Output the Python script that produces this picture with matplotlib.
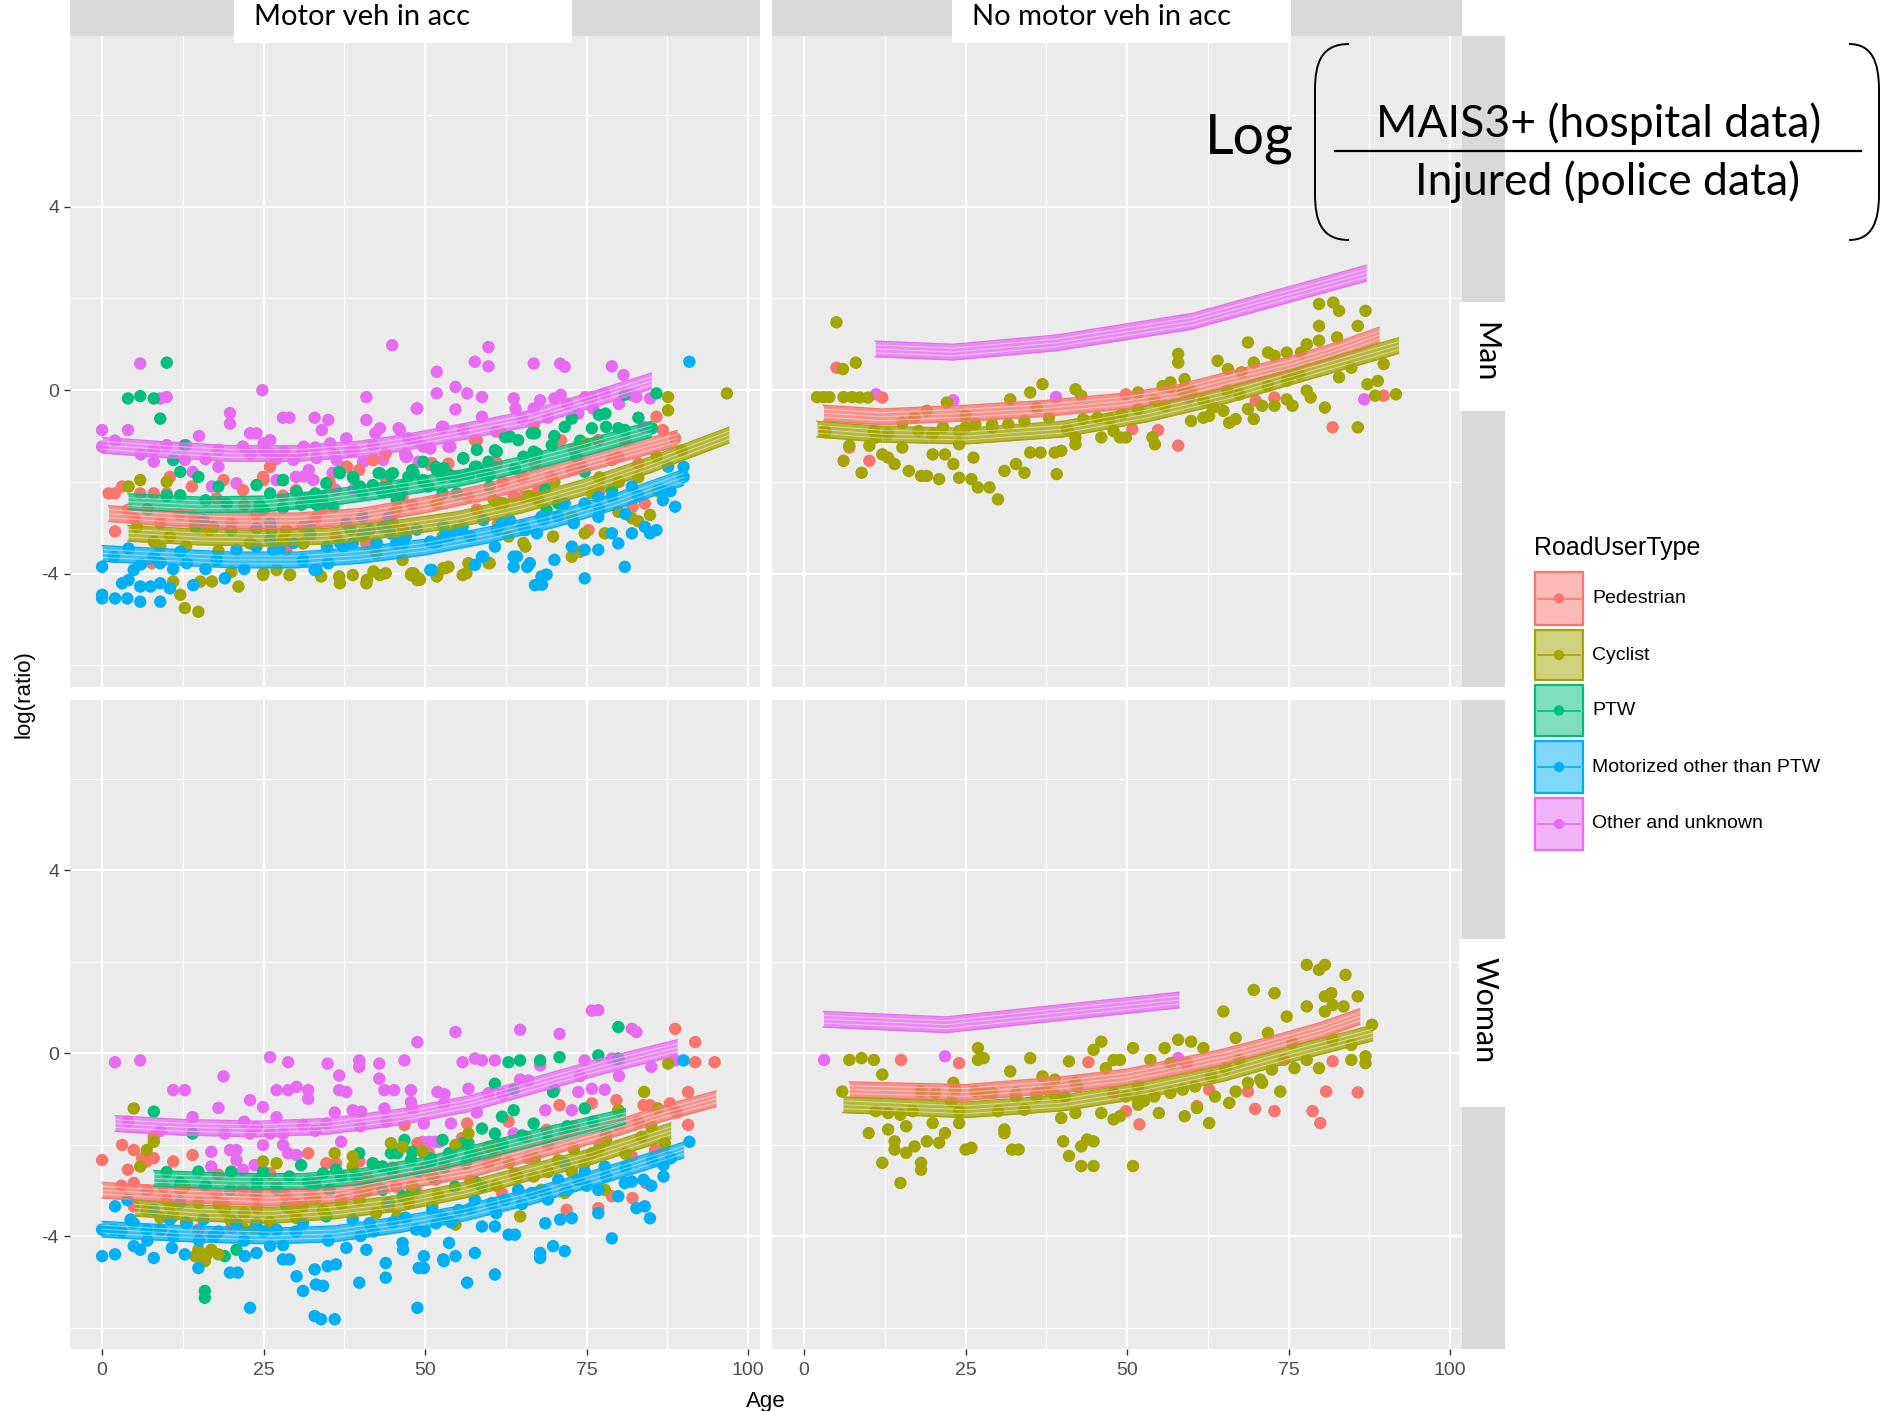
import matplotlib
matplotlib.use("Agg")
import matplotlib.pyplot as plt
from matplotlib.patches import Rectangle, PathPatch
from matplotlib.path import Path
import numpy as np

plt.rcParams['axes.unicode_minus'] = False
plt.rcParams['font.family'] = ['Liberation Sans', 'DejaVu Sans']

# ---------------- data ----------------
road_user_types = ["Pedestrian", "Cyclist", "PTW", "Motorized other than PTW", "Other and unknown"]
type_colors = ["#F8766D", "#A3A500", "#00BF7D", "#00B0F6", "#E76BF3"]
col_labels = ["Motor veh in acc", "No motor veh in acc"]
row_labels = ["Man", "Woman"]
x_ticks = [0, 25, 50, 75, 100]
y_ticks = [-4, 0, 4]

# Man / Motor vehicle in accident: (age, log ratio)
man_motor_ped = [(1,-2.25),(2,-2.25),(3.1,-2.1),(2,-3.08),(4,-2.61),(5.9,-2.25),(8,-2.25),(10,-2.25),(10.5,-1.89),(7.7,-3.77),
    (13.9,-2.1),(14.1,-2.76),(17.7,-2.36),(18.8,-1.96),(21.8,-2.18),(24.9,-1.89),(26,-1.67),(23.9,-2.72),(30,-2.18),(31.1,-2.4),
    (35.2,-2.0),(37.8,-1.67),(39.8,-1.74),(41.9,-1.52),(43.9,-1.38),(46.5,-2.32),(50.9,-1.6),(55,-1.89),(40.9,-3.34),(28.5,-3.48),
    (36.2,-3.19),(31.1,-2.98),(50.8,-1.63),(54.6,-1.89),(57.7,-1.09),(60.8,-1.56),(61.9,-0.94),(66.8,-0.76),(70,-1.02),(71,-1.09),
    (76.8,-1.09),(79.9,-1.45),(80.9,-0.87),(85.8,-0.58),(86.8,-0.87),(88.7,-1.05),(84,-2.47),(82.1,-2.54),(75.3,-3.05),(61.3,-2.9),
    (63.7,-2.32),(67.5,-2.18),(69.6,-1.89),(72.7,-1.74),(78.9,-1.52),(83,-1.6),(56.7,-2.32),(53.6,-1.6),(5,-2.8),(9,-2.9),
    (12,-2.7),(15,-3.0),(20,-2.9),(25,-2.6),(33,-2.8),(45,-2.7),(48,-2.5),(52,-2.4),(58,-2.6),(62,-2.0),(65,-1.9),(74,-1.6),(77,-2.2),
    (26,-1.67),(25,-1.96),(37.9,-1.67),(42,-1.52),(51,-1.59),(58,-1.09),(54.9,-1.88),(61.1,-1.59),(31.2,-3.33),(41,-3.37),
    (46.6,-3.04),(61.6,-2.46),(65.2,-2.32),(35.3,-2.1),(22,-2.5),(28,-2.3),(34,-2.6),(44,-2.0),(67,-1.6),(73,-1.3),(81,-1.1)]
man_motor_cyc = [(4.1,-2.1),(5.9,-1.96),(10,-2.0),(9,-3.41),(11,-4.17),(12.1,-4.46),(12.8,-4.75),(14.9,-4.83),(15.2,-4.17),(17,-4.17),
    (21.1,-4.28),(20,-3.96),(24.9,-4.03),(27,-3.92),(29,-4.03),(33.9,-4.06),(36.7,-4.06),(38.8,-4.03),(40.9,-4.21),(43,-4.03),
    (43.9,-3.99),(47.8,-4.03),(48.8,-4.14),(51.9,-4.03),(53.2,-3.88),(55.8,-4.03),(5.4,-2.98),(10.5,-3.19),(16.7,-3.05),(22.9,-3.34),
    (28.5,-3.05),(31.1,-3.34),(40.3,-3.19),(45,-2.9),(46.5,-3.19),(42.4,-3.56),(46.5,-3.7),(52.7,-3.19),(47.9,-3.99),(49,-4.1),
    (51.8,-4.06),(53.6,-3.85),(59.8,-3.77),(56.7,-3.77),(72.7,-3.63),(74,-3.52),(69.8,-3.19),(74.7,-3.12),(77.8,-3.12),(79.9,-2.65),
    (82,-2.79),(83,-2.86),(84.8,-2.72),(74.8,-1.16),(85.8,-1.45),(87.6,-0.15),(87.6,-0.44),(96.7,-0.07),(89.7,-1.31),(75.8,-2.25),
    (78.9,-2.32),(72.7,-2.76),(65.5,-3.41),(62.9,-3.19),(61.3,-2.98),(67.5,-2.4),(61.3,-2.47),
    (25,-3.99),(29.1,-4.02),(36.8,-4.21),(41,-4.13),(42,-3.95),(48.2,-3.99),(49.2,-4.13),(52.8,-3.88),(56.4,-3.99),(60,-3.77),
    (65.2,-3.33),(45.6,-2.61),(51.8,-2.46),(60.6,-2.39),(62.1,-2.46),(22.9,-3.33),(28,-3.26),(53.9,-3.15),(8,-3.3),(13,-3.4),
    (18,-3.5),(70,-2.0),(77,-1.9),(80,-2.0),(83,-1.9),(86,-2.2),(66,-2.3)]
man_motor_ptw = [(4,-0.18),(5.9,-0.13),(8,-0.18),(10,0.6),(9,-0.62),(12.8,-1.2),(11,-1.52),(12.1,-1.78),(14.9,-1.89),(12.1,-2.29),
    (23.9,-2.07),(28,-1.96),(30.8,-2.5),(33,-2.25),(36.7,-1.78),(38.8,-1.89),(41.9,-2.07),(43,-1.81),(45,-1.81),(46.5,-2.1),
    (48,-1.74),(49.8,-2.0),(51.6,-1.67),(52.9,-1.7),(55.2,-1.89),(55.9,-1.49),(19.3,-2.47),(24.9,-2.6),(26.2,-3.05),(20,-3.05),
    (17.2,-2.98),(14.4,-2.98),(34.7,-2.03),(34.2,-2.47),(40.3,-2.25),(44.4,-2.18),(46,-2.32),(52.7,-2.25),(57.7,-1.67),(59.8,-1.56),
    (60.8,-1.31),(62.4,-1.02),(64.4,-1.09),(66.5,-0.94),(66.8,-1.34),(69.6,-1.2),(71.6,-0.8),(72.7,-0.62),(75.8,-0.83),(76.9,-0.54),
    (77.9,-0.51),(79.9,-0.83),(80.9,-0.87),(85.8,-0.07),(80.9,-0.1),(85.1,-0.83),(47.4,-1.89),(52.6,-1.89),(56.7,-1.85),(58.8,-1.81),
    (63.9,-1.71),(68.6,-2.14),(70.6,-2.47),(68.8,-2.61),(78.9,-2.18),(73.4,-1.45),(74.7,-1.78),(50.5,-2.1),
    (28,-1.96),(30.1,-2.21),(31.9,-2.36),(34,-2.32),(36.8,-1.81),(38.9,-1.92),(39.9,-2.1),(42.8,-1.81),(44.6,-1.85),(46.4,-2.1),
    (48.2,-1.81),(49.7,-1.96),(51.8,-1.74),(53.9,-1.85),(55.9,-1.48),(58,-1.67),(60,-1.85),(61.1,-1.34),(63.1,-1.01),(65.2,-1.45),
    (67,-0.94),(67.3,-1.38),(54.9,-2.25),(60,-2.1),(35.8,-2.54),(24.4,-2.5),(26,-2.25),(33.2,-2.5),(45.6,-2.39),(58,-1.3),
    (49.7,-1.56),(43.3,-2.21),(28,-2.57),(18,-2.1),(16,-2.4),(10,-2.3),(7,-2.6),(70,-1.0),(74,-1.1),(78,-0.8),(83,-0.6)]
man_motor_mot = [(0,-3.85),(0,-4.46),(0,-4.54),(2,-4.54),(3.9,-4.54),(5.9,-4.61),(9,-4.61),(3.1,-4.21),(4.1,-4.14),(5.9,-4.28),
    (7.5,-4.28),(9,-4.21),(10.5,-4.32),(4.1,-3.45),(4.9,-3.92),(1.8,-3.63),(8,-3.63),(9,-3.77),(12.1,-3.52),(14.1,-4.25),
    (13.1,-3.77),(17.7,-3.7),(20.8,-3.48),(23.9,-3.41),(26.5,-3.48),(31.1,-3.7),(32.9,-3.92),(35,-3.77),(37.3,-3.41),(38.8,-3.34),
    (41.4,-3.05),(43.4,-2.98),(45.5,-3.34),(47,-3.19),(50.9,-3.92),(51.7,-3.34),(53.7,-3.19),(55.8,-2.98),(15.7,-2.83),(26,-2.9),
    (32.1,-2.98),(37.8,-2.9),(40.3,-2.76),(44.4,-2.76),(50.8,-3.92),(57.7,-3.81),(58.8,-3.63),(60.8,-3.41),(63.7,-3.85),(65.8,-3.85),
    (63.7,-3.63),(67,-4.25),(68,-4.06),(70,-3.7),(72.7,-3.41),(74.7,-4.1),(74.7,-3.48),(76.8,-3.48),(78.9,-3.12),(79.9,-3.34),
    (80.9,-3.85),(82,-3.12),(84,-2.98),(84.8,-3.12),(85.8,-3.05),(88.7,-2.54),(90,-1.67),(90,-1.89),(90.9,0.62),(87.6,-1.67),
    (86.5,-2.18),(86.8,-2.4),(74.7,-2.47),(76.8,-2.32),(78.9,-2.32),(82,-2.1),(68,-2.76),(70.6,-2.76),(71.6,-2.47),(61.9,-2.9),
    (65.5,-3.05),(55.7,-3.05),(53.1,-3.19),(76.8,-2.76),
    (23.9,-3.01),(26,-3.26),(27.5,-3.44),(29.6,-3.33),(32.2,-3.15),(34.8,-3.41),(36.8,-3.33),(38.4,-3.04),(40.4,-3.12),(42.5,-3.33),
    (44.6,-3.12),(46.6,-3.33),(48.7,-3.04),(50.8,-3.3),(52.8,-2.97),(54.9,-3.04),(57,-3.19),(59,-2.83),(61.1,-3.04),(63.1,-2.83),
    (65.2,-2.97),(67.3,-3.12),(68.3,-2.83),(64.2,-3.63),(66.2,-3.77),(59,-3.63),(51,-3.92),(33.2,-3.92),(35,-3.77),(68.1,-4.24),
    (68.8,-4.02),(6,-3.8),(11,-3.9),(16,-3.9),(19,-4.1),(22,-3.9),(81,-2.7),(83,-2.3),(88,-2.2),(73,-2.9),(77,-2.6)]
man_motor_oth = [(5.9,0.58),(10,-0.15),(9,-0.18),(0,-0.87),(4,-0.87),(0,-1.23),(8,-1.3),(8,-1.56),(12.8,-1.52),(14,-1.78),
    (17,-2.1),(18,-1.67),(19.8,-0.5),(19.8,-0.73),(22.9,-0.94),(24.8,0.0),(21.8,-1.23),(28,-0.6),(29,-0.6),(26,-1.09),
    (32.9,-0.6),(35,-0.65),(34,-0.87),(37.8,-1.05),(40.9,-0.15),(40.9,-0.65),(43,-0.83),(44.9,0.98),(45.9,-0.83),(48.8,-0.4),
    (47,-1.45),(51.8,0.4),(51.8,-0.07),(54.7,0.07),(54.7,-0.42),(56.5,-0.07),(52.7,-0.83),(49,-1.56),(35.7,-1.8),(32,-1.74),
    (30,-1.89),(20.8,-2.03),(23,-1.4),(25,-1.3),(27,-1.5),(31,-1.35),(33,-1.25),(36,-1.4),(39,-1.3),(42,-1.2),(16,-1.5),(13,-1.2),
    (59.8,0.94),(57.7,0.62),(59.8,0.52),(66.8,0.58),(70.9,0.58),(71.6,0.51),(78.9,0.52),(80.7,0.33),(58.8,-0.15),(48.7,-0.4),
    (58.8,-0.58),(63.7,-0.18),(67.8,-0.22),(70,-0.18),(71,-0.1),(73.7,-0.51),(74.8,-0.15),(75.8,-0.15),(77.8,-0.07),(81.9,-0.1),
    (82.7,-0.15),(84.8,-0.18),(47.4,-1.05),(49.7,-1.23),(53.6,-1.23),(52.6,-0.8),(65,-0.62),(66.8,-0.4),(73.7,-1.2),(46.9,-1.38),(83.8,-0.8),
    (23.9,-0.94),(25,-1.16),(26,-1.38),(28.1,-1.34),(29.6,-1.52),(31.2,-1.23),(33.2,-1.48),(35.3,-1.16),(36.3,-1.52),(38.4,-1.34),
    (40.4,-1.56),(42.3,-0.94),(43.5,-1.52),(46.1,-0.87),(47.2,-1.45),(48.7,-1.09),(50.8,-1.27),(52.8,-0.8),(53.9,-1.23),(55.9,-0.87),
    (31.2,-1.88),(32.7,-1.96),(36.1,-2.17),(38.9,-2.17),(27,-1.96),(2,-1.1),(6,-1.4),(10,-1.2),(15,-1.0),(18,-1.3),(61,-0.9),
    (64,-0.4),(69,-0.6),(72,-0.3),(76,-0.4),(80,-0.3)]

# Woman / Motor vehicle in accident
woman_motor_ped = [(0,-2.34),(3.1,-2.01),(4,-2.55),(4.9,-2.12),(6.2,-2.3),(6.9,-2.37),(8,-1.83),(8,-2.3),(4.9,-2.84),(4.9,-3.35),
    (11,-2.37),(14,-2.23),(18,-2.66),(20,-2.59),(21.8,-2.99),(26,-2.63),(31.9,-2.19),(34.7,-2.41),(36.2,-2.41),(39.8,-2.37),
    (41.9,-2.41),(46.8,-1.57),(48.8,-1.97),(50.6,-2.19),(54,-2.19),(56.5,-1.54),(14.9,-3.86),(20,-3.82),(23.9,-3.13),(28.5,-3.13),
    (32.1,-3.13),(35.2,-2.99),(39.8,-2.99),(42.4,-2.84),(45.5,-2.92),(48.6,-2.99),(51.6,-2.77),(9.5,-2.92),(12.1,-2.99),(17.7,-3.06),
    (44.4,-3.35),(55.7,-1.86),(62.9,-1.5),(65.7,-1.83),(68.8,-1.68),(70.8,-1.14),(71.6,-1.72),(75.8,-1.1),(79.6,-1.03),(83.8,-1.14),
    (84.8,-1.14),(87.9,-1.1),(88.7,0.53),(91.8,0.24),(91.8,-0.2),(94.8,-0.2),(90.7,-0.85),(90.7,-1.57),(61.9,-3.06),(71.9,-3.43),
    (76.8,-3.39),(78.9,-3.13),(82.1,-3.17),(84.2,-2.84),(85.6,-2.12),(86.9,-2.08),(82,-2.26),(63.9,-2.63),(59.8,-2.41),
    (3,-2.9),(7,-3.0),(10,-3.2),(16,-2.9),(19,-3.3),(24,-3.4),(27,-2.9),(30,-3.3),(33,-2.8),(37,-3.2),(41,-2.7),(45,-2.5),
    (50,-2.5),(53,-2.4),(58,-2.2),(61,-2.0),(66,-2.3),(69,-2.0),(73,-1.6),(77,-2.0),(80,-1.6),(83,-1.5),(89,-1.3)]
woman_motor_cyc = [(4.9,-1.21),(8,-1.94),(6.9,-2.12),(5.9,-2.48),(6.9,-3.43),(10.5,-3.35),(12.8,-2.92),(14.9,-3.28),(14.9,-4.3),(16.2,-4.4),
    (16.9,-4.3),(18,-4.4),(15.9,-4.55),(14.4,-4.44),(24.9,-2.37),(27,-2.41),(19,-3.43),(21.8,-3.82),(23.6,-3.82),(29,-3.39),
    (31.1,-3.35),(36,-2.19),(38.8,-2.26),(38.8,-2.48),(39.8,-3.21),(44.7,-1.97),(46.5,-2.05),(49.6,-2.16),(54.7,-2.01),(54.7,-3.75),
    (45.7,-3.57),(42.4,-3.5),(34.2,-3.43),(47.5,-3.28),(51.1,-3.35),(11,-3.57),(19.8,-3.64),(56.7,-1.76),(59.8,-2.05),(60.8,-2.26),
    (64.2,-2.7),(66.8,-2.7),(68,-2.99),(64.7,-3.57),(50.8,-2.63),(70.6,-2.34),(72.7,-2.59),(75.8,-2.19),(76.8,-2.12),(79.9,-1.25),
    (83.9,-0.85),(86,-1.21),(87.6,-0.23),(77.8,-2.99),(71.6,-3.06),(83.5,-1.83),(87.1,-1.97),(74.7,-2.41),
    (9,-3.6),(13,-3.7),(18,-3.3),(22,-3.5),(26,-3.7),(30,-3.6),(33,-3.2),(37,-3.3),(41,-3.0),(44,-3.3),(48,-2.9),(52,-3.1),
    (57,-2.8),(61,-2.9),(63,-2.4),(67,-2.3),(69,-2.6),(73,-2.1),(78,-1.9),(81,-2.2),(85,-1.6)]
woman_motor_ptw = [(8,-1.28),(14,-1.76),(14.9,-2.59),(15.9,-5.2),(15.9,-5.35),(19,-4.44),(20.8,-4.3),(24.9,-2.59),(30.8,-2.45),(34.2,-2.63),
    (36.2,-2.55),(39.8,-2.19),(41.9,-2.41),(43.4,-2.48),(44.7,-2.19),(45.7,-2.19),(46.8,-1.9),(47.8,-2.34),(50.9,-2.34),(53.7,-2.19),
    (52.7,-1.9),(56.3,-2.41),(55.8,-1.97),(23.9,-2.99),(27,-2.99),(31.9,-2.81),(35.2,-2.99),(39.3,-2.7),(43.4,-2.99),(48.1,-3.03),
    (51.1,-2.7),(12.1,-2.84),(19.8,-2.99),(28.5,-3.35),(34.7,-3.57),(46.5,-3.13),(48,-2.16),(50.8,-2.3),(53.9,-2.19),(56.7,-1.97),
    (58.8,-1.65),(60.8,-1.76),(60.8,-0.67),(62.9,-0.2),(64.7,-0.16),(67.8,-0.16),(70.8,-0.09),(63.7,-0.81),(63.7,-1.25),(61.9,-1.39),
    (66.8,-1.54),(69.8,-0.85),(74.7,-1.21),(76.8,-0.05),(79.9,0.57),(79.9,-0.12),(58.8,-2.92),(57.7,-2.81),(50.8,-2.55),(54.6,-2.92),(48,-2.99),
    (10,-2.6),(16,-2.9),(20,-2.6),(24,-2.8),(29,-2.7),(33,-2.9),(37,-2.7),(41,-2.9),(45,-2.6),(49,-2.6),(53,-2.5),(57,-2.2),
    (62,-2.0),(65,-1.8),(69,-1.9),(72,-1.6),(76,-1.5),(78,-1.8)]
woman_motor_mot = [(0,-4.44),(0,-3.86),(2,-4.4),(2,-3.35),(1.8,-3.86),(3.9,-3.21),(4.9,-4.22),(4.9,-3.72),(5.9,-4.3),(8,-4.48),
    (6.9,-3.86),(9,-3.86),(10.8,-4.26),(12.8,-4.4),(14.9,-4.7),(13.1,-3.72),(10.5,-3.64),(19.8,-4.8),(21,-4.8),(22.9,-5.57),
    (22.1,-4.44),(23.9,-4.37),(26,-4.22),(28,-4.51),(29,-4.51),(30.1,-4.88),(31.1,-5.2),(32.9,-4.73),(33.1,-5.06),(34.2,-5.09),
    (32.9,-5.75),(33.9,-5.82),(36,-5.82),(34.9,-4.66),(36.2,-4.62),(37.8,-4.26),(39.8,-5.02),(40.9,-4.3),(43.9,-4.59),(43.9,-4.91),
    (48.8,-5.57),(49.8,-4.44),(49.8,-4.7),(52.9,-4.55),(54.7,-4.44),(56.5,-5.02),(53.7,-4.15),(46.5,-4.15),(41.4,-3.72),(38.8,-3.64),
    (31.1,-3.72),(27,-3.86),(23.9,-3.72),(17.2,-4.01),(20.8,-3.72),(15.7,-3.64),(12.1,-3.28),(8,-3.43),(4.4,-3.64),(48.6,-3.86),
    (51.7,-3.72),(44.4,-3.28),(51.1,-3.43),(46.6,-4.3),(49,-4.7),(52.8,-4.51),(57.7,-4.37),(60.8,-4.84),(58.8,-3.79),(60.8,-3.79),
    (62.9,-3.97),(63.9,-3.97),(67.8,-4.37),(67.8,-4.48),(69.8,-4.22),(71.6,-4.33),(68.6,-3.72),(70.9,-3.64),(72.7,-3.61),(76.8,-3.5),
    (78.9,-4.05),(82.7,-3.39),(84,-3.35),(84.8,-3.61),(83.8,-2.77),(86.9,-2.7),(86.9,-2.45),(90,-0.16),(90.9,-1.94),(85.1,-2.34),
    (82,-2.81),(77.8,-2.48),(74.7,-2.59),(73.7,-2.77),(71.6,-2.41),(70.6,-2.77),(68.6,-3.03),(66.5,-3.06),(64.4,-2.99),(62.4,-3.21),
    (60.3,-3.28),(57.7,-3.21),(55.2,-3.43),(52.6,-3.57),(76.8,-2.99),(79.9,-3.13),(80.9,-2.84),
    (3,-3.9),(7,-4.1),(11,-4.0),(15,-4.1),(18,-3.9),(22,-4.1),(25,-3.9),(28,-4.2),(30,-3.9),(35,-4.1),(40,-4.0),(42,-3.9),
    (45,-3.7),(47,-3.6),(50,-3.9),(54,-3.7),(57,-3.4),(61,-3.5),(65,-3.3),(69,-3.2),(72,-3.0),(75,-2.9),(78,-2.7),(81,-2.5),
    (85,-2.9),(88,-2.3)]
woman_motor_oth = [(2,-0.2),(5.9,-0.16),(11,-0.81),(12.8,-0.81),(18.8,-0.51),(22.9,-1.03),(24.9,-1.18),(26,-0.09),(27,-0.81),(28.8,-0.81),
    (30.1,-0.74),(31.9,-0.81),(31.9,-1.0),(28.8,-0.2),(34.9,-0.23),(36.7,-0.49),(36.7,-0.81),(37.8,-0.85),(39.8,-0.16),(39.8,-0.3),
    (42.9,-0.23),(42.9,-0.56),(46.8,-0.16),(48.8,0.24),(43.7,-0.81),(45.2,-0.81),(47.8,-0.81),(47.8,-1.07),(38.8,-1.25),(40.1,-1.28),
    (43.7,-1.21),(51.9,-0.85),(54.7,0.46),(55.8,-0.2),(52.9,-1.1),(19,-1.76),(22.9,-1.76),(23.9,-1.61),(26,-1.76),(28,-1.76),
    (28,-2.01),(28.8,-2.19),(30.1,-2.23),(24.9,-2.01),(16.9,-2.16),(19.8,-2.12),(20.8,-2.12),(16.9,-2.48),(20.8,-2.34),(21.8,-2.55),
    (23.6,-2.45),(37,-1.94),(31.1,-1.57),(34.7,-1.54),(49.8,-1.54),(49.6,-1.94),(50.6,-1.94),(52.2,-1.94),(54,-1.54),(64.7,0.51),
    (70.8,0.42),(75.8,0.93),(76.8,0.94),(82,0.53),(82.7,0.46),(57.7,-0.12),(58.8,-0.16),(60.8,-0.16),(67.8,-0.27),(74.7,-0.16),
    (78.9,-0.12),(79.9,-0.16),(88.7,-0.16),(56.7,-0.78),(59.8,-0.88),(64.7,-0.58),(73.7,-0.85),(75.8,-0.78),(77.8,-0.8),(68.6,-1.25),
    (72.7,-1.25),(63.7,-1.76),(79.9,-1.25),(51.5,-1.94),
    (4,-1.5),(9,-1.7),(14,-1.4),(18,-1.2),(22,-1.5),(27,-1.4),(33,-1.7),(36,-1.3),(40,-1.6),(44,-1.5),(48,-1.2),(53,-0.9),
    (58,-1.3),(62,-0.9),(66,-0.6),(70,-0.8),(74,-0.5),(80,-0.5),(85,-0.3)]

# Man / No motor vehicle in accident
man_nomotor_ped = [(5,0.49),(12.1,-0.16),(7,-1.25),(10.1,-1.54),(3.3,-0.89),(49.8,-0.09),(50.8,-0.85),(54.8,-0.87),(57.9,-1.21),
    (72.8,-0.16),(69.9,-0.23),(81.8,-0.81),(89.7,-0.12)]
man_nomotor_cyc = [(5,1.48),(6,0.46),(8,0.6),(2,-0.15),(3,-0.15),(3.9,-0.15),(6.1,-0.15),(7.4,-0.15),(8.6,-0.16),(9.9,-0.16),
    (3.3,-0.92),(7,-1.21),(6.1,-1.54),(8.9,-1.8),(10.1,-1.21),(11.1,-1.03),(12.1,-1.4),(13,-1.47),(14,-1.61),(15.2,-1.25),
    (16.2,-1.76),(18.1,-1.87),(19,-1.87),(20.9,-1.94),(19.9,-1.4),(21.8,-1.4),(23.1,-1.61),(24,-1.91),(25.9,-1.94),(26.9,-2.12),
    (28.7,-2.12),(30,-2.38),(26.2,-1.47),(24,-1.18),(22.1,-0.27),(19,-0.45),(17.1,-0.6),(15.2,-0.71),(25,-0.56),(25,-0.81),
    (29.1,-0.74),(31,-1.76),(31.9,-0.2),(32.8,-1.61),(34.1,-1.8),(35,-0.05),(36.9,0.13),(35,-1.36),(36.6,-1.36),(38.8,-1.36),
    (39.8,-1.32),(39.1,-1.83),(42,0.02),(42.9,-0.12),(42,-1.03),(42,-1.18),(46,-1.03),(47.9,-0.89),(48.9,-1.03),(49.8,-1.03),
    (51.7,-0.05),(53.9,-1.03),(54.3,-1.18),(55.5,0.09),(56.7,0.17),(57.9,0.79),(57.9,0.6),(58.9,0.24),(59.9,-0.67),(61.8,-0.6),
    (62.7,-0.56),(64,0.64),(65.6,0.46),(67.7,0.39),(68.7,1.04),(69.6,0.6),(71.8,0.82),(72.8,0.75),(74.7,0.82),(76.9,0.82),
    (77.8,1.0),(79.7,1.88),(79.7,1.4),(79.7,1.08),(81.9,1.91),(82.8,1.73),(86.9,1.73),(85.7,1.4),(82.5,1.15),(84.7,0.49),
    (89.7,0.57),(88.8,0.2),(87.2,0.13),(88.4,-0.12),(91.6,-0.09),(85.7,-0.81),(80.6,-0.38),(82.8,0.28),(77.8,-0.01),(78.4,-0.16),
    (75.6,-0.34),(74.7,-0.2),(72.8,-0.34),(70.9,-0.34),(69.6,-0.63),(68.7,-0.41),(66.8,-0.63),(65.8,-0.71),(64.9,-0.45),(63.3,-0.38),
    (61.8,-0.23),(59.9,-0.01),(58.6,-0.01),(56.7,0.06),(55.8,-0.34),(54.2,-0.23),(51.7,-0.41),(49.2,-0.52),(47.3,-0.63),(45.4,-0.6),
    (43.2,-0.63),(40.7,-0.85),(37.9,-0.6),(36,-0.38),(34.1,-0.67),(31.6,-0.74),(29.1,-0.81),(26.5,-0.74),(24,-0.89),(21.5,-0.81),
    (19.9,-0.96),(17.7,-0.89),(13,-0.96),(10.8,-0.89),(67.4,-0.09),(71.8,0.09),(75,0.28),(76.6,0.35),(65.5,-0.01),(74.7,0.2)]
man_nomotor_oth = [(11.1,-0.09),(23.1,-0.22),(39,-0.15),(59.6,-0.16),(86.7,-0.2)]

# Woman / No motor vehicle in accident
woman_nomotor_ped = [(15,-0.15),(24,-0.22),(44,-0.2),(47.9,-0.87),(49.8,-1.27),(51.9,-1.56),(59.2,-0.22),(60.8,-1.16),(62.7,-0.8),
    (68.7,-0.84),(69.8,-1.22),(72.8,-1.27),(78.7,-1.27),(79.9,-1.53),(80.8,-0.84),(81.8,-0.18),(85.7,-0.86),(74.3,-0.15)]
woman_nomotor_cyc = [(5.9,-0.84),(7,-0.15),(8.9,-0.11),(10.8,-0.15),(12.1,-0.47),(10,-1.75),(11.1,-1.27),(13,-1.31),(13,-1.67),(12.1,-2.4),
    (14,-1.93),(14,-2.11),(14.9,-1.35),(14.9,-2.84),(15.8,-1.6),(15.8,-2.18),(16.8,-1.27),(17.1,-2.04),(18.1,-2.4),(18.1,-2.55),
    (19,-1.93),(19.9,-1.53),(20.9,-1.96),(21.8,-1.75),(23.1,-0.65),(22.8,-1.05),(24,-1.27),(24,-1.53),(25,-2.11),(25.9,-2.07),
    (26.9,0.11),(26.9,-0.15),(27.8,-0.11),(28.1,-0.87),(30,-1.27),(31,-1.67),(31,-1.75),(31.9,-0.4),(32.8,-0.87),(32.2,-2.11),
    (33.2,-2.11),(34.1,-1.24),(35,-0.11),(36,-0.95),(36.9,-0.51),(37.5,-0.8),(38.8,-0.58),(38.8,-0.91),(39.8,-1.42),(40.1,-1.93),
    (41,-2.25),(41,-0.18),(42,-0.65),(42,-1.31),(42.9,-2.04),(42.9,-2.47),(43.8,-1.89),(44.8,-1.93),(44.8,-2.47),(44.8,0.07),
    (46,0.25),(46.7,-0.33),(47.9,-0.15),(48.9,-0.15),(47.9,-1.45),(48.9,-1.38),(49.8,-0.95),(50.9,0.11),(50.9,-2.47),(51.7,-0.73),
    (51.7,-1.13),(52.6,-1.05),(53.6,-0.15),(54.9,-1.31),(55.8,0.11),(56.7,-0.22),(57.9,0.29),(58.9,-1.38),(59.9,0.25),(60.8,-1.2),
    (61.8,0.11),(62.7,-1.53),(63.6,-0.95),(64.9,0.91),(65.8,-1.09),(66.8,0.33),(66.8,-0.84),(68.7,-0.65),(69.6,1.38),(70.6,-0.58),
    (71.8,0.44),(72.8,1.31),(73.7,-0.84),(74.7,0.8),(75.9,-0.33),(77.8,1.93),(77.8,1.02),(79.7,1.82),(80.6,1.93),(80.6,1.24),
    (81.6,1.31),(80.6,0.91),(81.8,1.05),(83.5,1.02),(83.8,1.71),(85.7,1.24),(86.9,-0.07),(86.9,-0.22),(87.9,0.62),(84.7,0.18),
    (84.7,-0.15),(81.8,0.29),(79.7,-0.33),(77.8,-0.15),(75.6,0.22),(72.4,-0.36),(70.9,-0.65),(67.4,-0.15),(65.2,-0.33),(63,-0.51),
    (60.5,-0.73),(58.6,-0.8),(56.7,-0.87),(54.2,-0.95),(51.7,-1.02),(46,-1.31),(42.3,-0.73),(40.4,-0.95),(36,-0.87),(32.8,-0.95),
    (29.1,-0.87),(26.5,-0.84),(23.4,-0.8),(20.3,-0.87),(18.1,-0.84)]
woman_nomotor_oth = [(3.1,-0.15),(21.8,-0.07),(57.9,-0.11)]

# fitted curves: (age, fitted log ratio)
fit_man_motor_ped = [(1,-2.69),(10,-2.78),(20,-2.85),(30,-2.85),(40,-2.75),(50,-2.5),(60,-2.2),(70,-1.8),(80,-1.4),(89,-1.05)]
fit_man_motor_cyc = [(4,-3.12),(15,-3.2),(25,-3.23),(35,-3.18),(45,-3.02),(55,-2.82),(65,-2.5),(75,-2.1),(85,-1.62),(97,-0.98)]
fit_man_motor_ptw = [(4,-2.43),(15,-2.5),(25,-2.48),(35,-2.35),(45,-2.15),(55,-1.93),(65,-1.62),(75,-1.25),(85,-0.85)]
fit_man_motor_mot = [(0,-3.56),(10,-3.63),(20,-3.7),(30,-3.7),(40,-3.6),(50,-3.42),(60,-3.15),(70,-2.82),(80,-2.4),(90,-1.9)]
fit_man_motor_oth = [(0,-1.2),(10,-1.3),(20,-1.38),(30,-1.38),(40,-1.28),(46,-1.16),(56,-0.9),(66,-0.62),(76,-0.2),(85,0.2)]

fit_woman_motor_ped = [(0,-3.0),(13,-3.1),(26,-3.17),(36,-3.1),(46,-2.82),(57,-2.55),(67,-2.15),(77,-1.76),(86,-1.35),(95,-1.0)]
fit_woman_motor_cyc = [(5,-3.39),(15,-3.5),(26,-3.55),(36,-3.45),(46,-3.28),(56,-3.0),(66,-2.62),(76,-2.25),(88,-1.7)]
fit_woman_motor_ptw = [(8,-2.74),(20,-2.8),(31,-2.81),(40,-2.7),(50,-2.45),(60,-2.1),(70,-1.75),(81,-1.39)]
fit_woman_motor_mot = [(0,-3.85),(13,-3.95),(26,-4.0),(36,-3.95),(46,-3.75),(56,-3.5),(66,-3.15),(77,-2.7),(90,-2.12)]
fit_woman_motor_oth = [(2,-1.54),(12,-1.62),(24,-1.66),(35,-1.6),(46,-1.4),(57,-1.1),(67,-0.7),(77,-0.3),(89,0.12)]

fit_man_nomotor_ped = [(3,-0.5),(12,-0.58),(25,-0.5),(37,-0.4),(50,-0.23),(58,-0.05),(66,0.24),(75,0.55),(82,0.85),(89,1.2)]
fit_man_nomotor_cyc = [(2,-0.85),(12,-0.96),(25,-1.0),(40,-0.85),(53,-0.52),(66,-0.09),(78,0.4),(92,0.97)]
fit_man_nomotor_oth = [(11,0.9),(23,0.83),(39,1.03),(60,1.5),(87,2.55)]

fit_woman_nomotor_ped = [(7,-0.8),(25,-0.86),(40,-0.69),(50,-0.52),(58,-0.29),(65,-0.08),(72,0.18),(80,0.5),(86,0.8)]
fit_woman_nomotor_cyc = [(6,-1.13),(25,-1.24),(40,-1.09),(53,-0.8),(65,-0.44),(76,0.0),(88,0.44)]
fit_woman_nomotor_oth = [(3,0.74),(22,0.62),(58,1.16)]

# ---------------- figure ----------------
W, H = 1883, 1411
fig = plt.figure(figsize=(W / 100, H / 100), dpi=100)
fig.patch.set_facecolor("white")

def rect(x0, y0, x1, y1):
    return [x0 / W, 1 - y1 / H, (x1 - x0) / W, (y1 - y0) / H]

panel_px = {
    ("Man", 0): (70, 36, 760, 687),
    ("Man", 1): (772, 36, 1462, 687),
    ("Woman", 0): (70, 700, 760, 1349),
    ("Woman", 1): (772, 700, 1462, 1349),
}
panel_data = {
    ("Man", 0): ([man_motor_ped, man_motor_cyc, man_motor_ptw, man_motor_mot, man_motor_oth],
                 [fit_man_motor_ped, fit_man_motor_cyc, fit_man_motor_ptw, fit_man_motor_mot, fit_man_motor_oth]),
    ("Man", 1): ([man_nomotor_ped, man_nomotor_cyc, [], [], man_nomotor_oth],
                 [fit_man_nomotor_ped, fit_man_nomotor_cyc, [], [], fit_man_nomotor_oth]),
    ("Woman", 0): ([woman_motor_ped, woman_motor_cyc, woman_motor_ptw, woman_motor_mot, woman_motor_oth],
                   [fit_woman_motor_ped, fit_woman_motor_cyc, fit_woman_motor_ptw, fit_woman_motor_mot, fit_woman_motor_oth]),
    ("Woman", 1): ([woman_nomotor_ped, woman_nomotor_cyc, [], [], woman_nomotor_oth],
                   [fit_woman_nomotor_ped, fit_woman_nomotor_cyc, [], [], fit_woman_nomotor_oth]),
}
point_order = [4, 0, 2, 1, 3]
HW = 0.17

for (row, col), px in panel_px.items():
    ax = fig.add_axes(rect(*px))
    ax.set_facecolor("#EBEBEB")
    for s in ax.spines.values():
        s.set_visible(False)
    ax.set_xlim(-4.97, 101.83)
    ax.set_ylim(-6.47, 7.72)
    ax.set_xticks(x_ticks)
    ax.set_xticks([12.5, 37.5, 62.5, 87.5], minor=True)
    ax.set_yticks(y_ticks)
    ax.set_yticks([-6, -2, 2, 6], minor=True)
    ax.grid(which="major", color="white", lw=1.5)
    ax.grid(which="minor", color="white", lw=0.8)
    ax.set_axisbelow(True)
    ax.tick_params(which="minor", length=0)
    if col == 0:
        ax.tick_params(axis="y", which="major", length=4.3, width=1.0, color="#333333",
                       labelsize=14, labelcolor="#4D4D4D", pad=3.6)
    else:
        ax.tick_params(axis="y", which="major", length=0, labelleft=False)
    if row == "Woman":
        ax.tick_params(axis="x", which="major", length=4.3, width=1.0, color="#333333",
                       labelsize=14, labelcolor="#4D4D4D", pad=5)
    else:
        ax.tick_params(axis="x", which="major", length=0, labelbottom=False)

    pts_list, fit_list = panel_data[(row, col)]
    for i in point_order:
        pts = pts_list[i]
        if pts:
            ax.scatter([p[0] for p in pts], [p[1] for p in pts], s=80, color=type_colors[i],
                       edgecolors="none", zorder=2)
    for i in range(5):
        f = fit_list[i]
        if not f:
            continue
        a = np.array([p[0] for p in f])
        v = np.array([p[1] for p in f])
        ax.fill_between(a, v - HW, v + HW, color=type_colors[i], alpha=0.75, lw=0, zorder=3)
        ax.plot(a, v - HW, color=type_colors[i], lw=1.0, zorder=3.1)
        ax.plot(a, v + HW, color=type_colors[i], lw=1.0, zorder=3.1)
        for k in (-0.5, 0, 0.5):
            ax.plot(a, v + k * HW, color="white", alpha=0.5, lw=0.7, zorder=3.2)

# ---------------- overlay (strips, legend, annotation) ----------------
ov = fig.add_axes([0, 0, 1, 1], zorder=10)
ov.set_xlim(0, W)
ov.set_ylim(H, 0)
ov.axis("off")
ov.patch.set_alpha(0)

strip_grey = "#D9D9D9"
ov.add_patch(Rectangle((70, 0), 690, 36, color=strip_grey, lw=0))
ov.add_patch(Rectangle((772, 0), 690, 36, color=strip_grey, lw=0))
ov.add_patch(Rectangle((1462, 36), 43, 651, color=strip_grey, lw=0))
ov.add_patch(Rectangle((1462, 700), 43, 649, color=strip_grey, lw=0))

calib = ["Lato", "DejaVu Sans"]
# white label boxes
ov.add_patch(Rectangle((234, 0), 338, 43, color="white", lw=0))
ov.add_patch(Rectangle((952, 0), 339, 43, color="white", lw=0))
ov.add_patch(Rectangle((1459, 302), 47, 109, color="white", lw=0))
ov.add_patch(Rectangle((1459, 939), 47, 168, color="white", lw=0))
ov.text(254, 25, col_labels[0], fontsize=21, family=calib, ha="left", va="baseline", color="black")
ov.text(972, 25, col_labels[1], fontsize=21, family=calib, ha="left", va="baseline", color="black")
ov.text(1485, 352, row_labels[0], fontsize=22, family=calib, rotation=270, ha="center", va="center", color="black")
ov.text(1485, 1010, row_labels[1], fontsize=22, family=calib, rotation=270, ha="center", va="center", color="black")

# axis titles
ov.text(24, 694, "log(ratio)", fontsize=16, rotation=90, ha="center", va="center", color="black")
ov.text(766, 1402, "Age", fontsize=16, ha="center", va="center", color="black")

# legend
ov.text(1534, 555, "RoadUserType", fontsize=18, ha="left", va="baseline", color="black")
key_rows = [(571, 626), (629, 681), (684, 737), (740, 794), (797, 851)]
for (y0, y1), lab, c in zip(key_rows, road_user_types, type_colors):
    ov.add_patch(Rectangle((1535, y0 + 1), 48, y1 - y0 - 2, facecolor=c, alpha=0.5, lw=0))
    ov.add_patch(Rectangle((1535, y0 + 1), 48, y1 - y0 - 2, facecolor="none", edgecolor=c, lw=1.6))
    yc = (y0 + y1) / 2
    ov.plot([1538, 1580], [yc, yc], color=c, lw=1.2)
    ov.scatter([1559], [yc], s=55, color=c, edgecolors="none", zorder=5)
    ov.text(1592, yc, lab, fontsize=14, ha="left", va="center", color="black")

# formula annotation
ov.text(1205, 153, "Log", fontsize=40, family=calib, ha="left", va="baseline", color="black")
ov.text(1599, 137, "MAIS3+ (hospital data)", fontsize=32, family=calib, ha="center", va="baseline", color="black")
ov.text(1608, 195, "Injured (police data)", fontsize=32, family=calib, ha="center", va="baseline", color="black")
ov.plot([1335, 1861], [151, 151], color="black", lw=1.6)
lb = Path([(1349, 44), (1322, 44), (1315, 62), (1315, 90), (1315, 194), (1315, 222), (1322, 240), (1349, 240)],
          [Path.MOVETO, Path.CURVE4, Path.CURVE4, Path.CURVE4, Path.LINETO, Path.CURVE4, Path.CURVE4, Path.CURVE4])
rb = Path([(1849, 44), (1872, 44), (1879, 62), (1879, 90), (1879, 194), (1879, 222), (1872, 240), (1849, 240)],
          [Path.MOVETO, Path.CURVE4, Path.CURVE4, Path.CURVE4, Path.LINETO, Path.CURVE4, Path.CURVE4, Path.CURVE4])
ov.add_patch(PathPatch(lb, facecolor="none", edgecolor="black", lw=1.4))
ov.add_patch(PathPatch(rb, facecolor="none", edgecolor="black", lw=1.4))

fig.savefig("out.png", dpi=100)
